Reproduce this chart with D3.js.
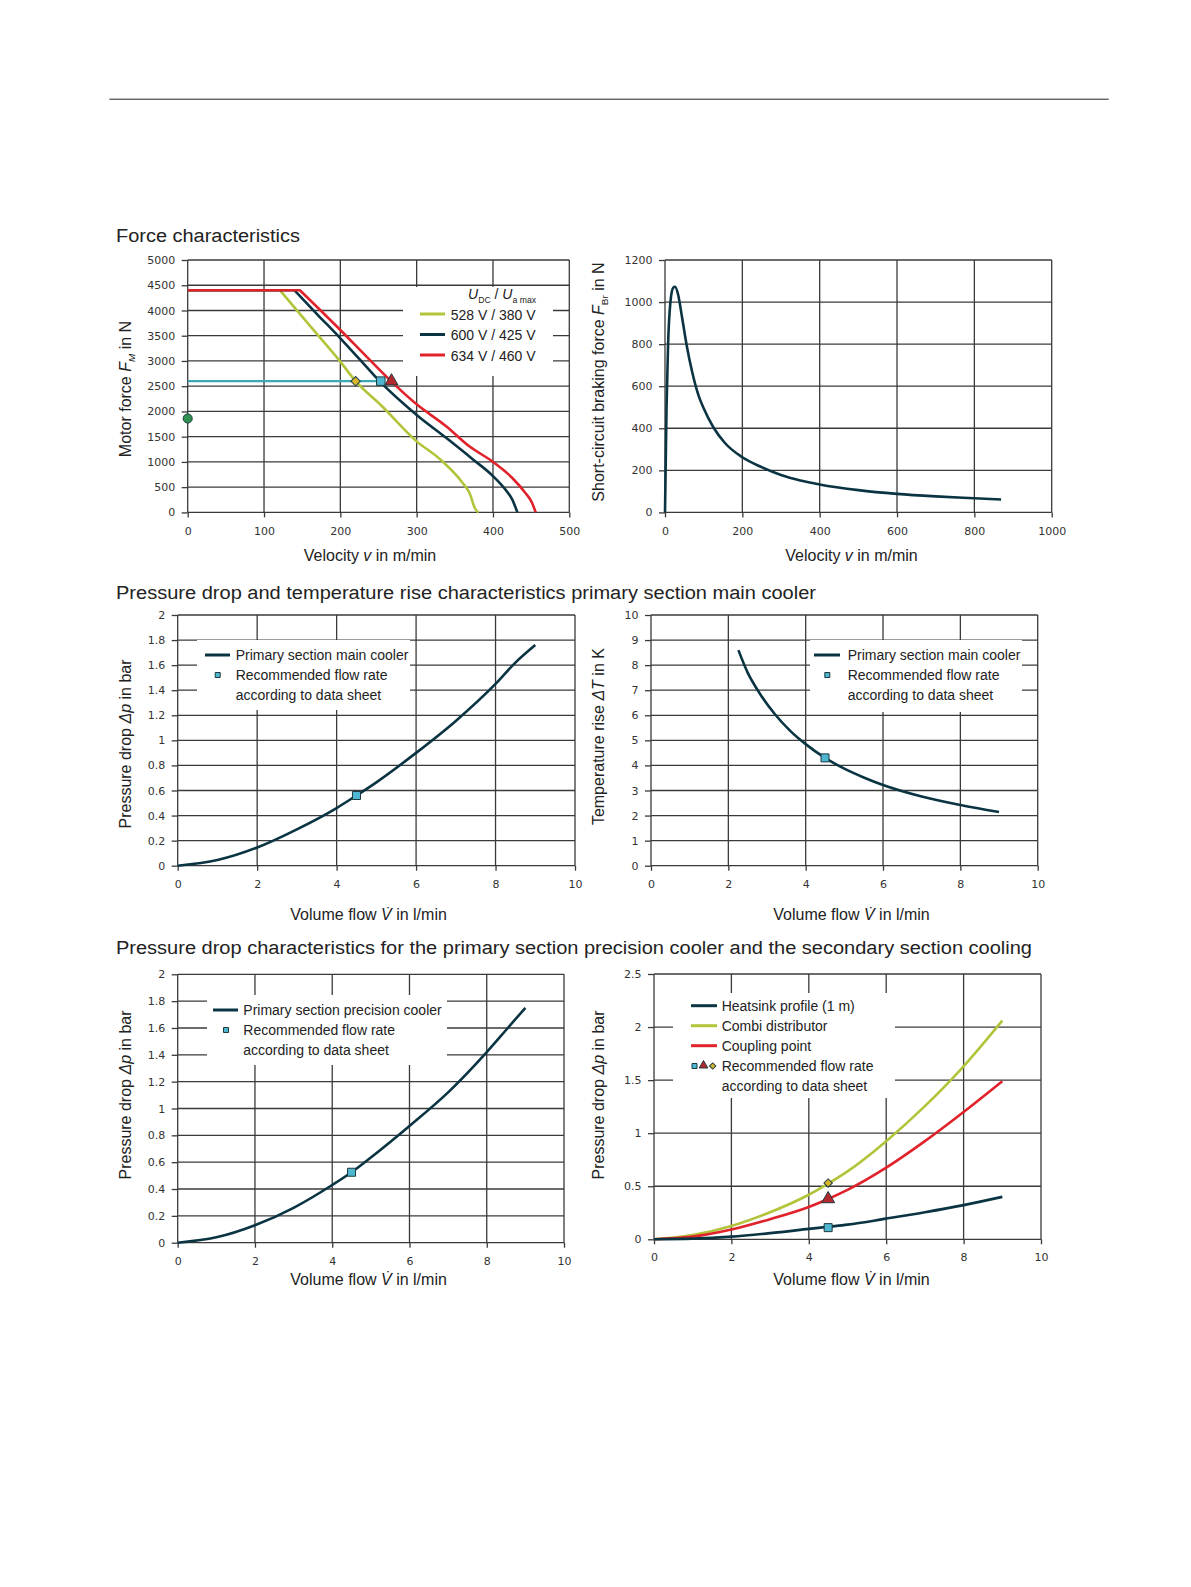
<!DOCTYPE html>
<html>
<head>
<meta charset="utf-8">
<script src="https://cdn.jsdelivr.net/npm/d3@7"></script>
<style>
body { margin: 0; background: #fff; }
svg { display: block; }
</style>
</head>
<body>
<svg id="page" width="1191" height="1587"></svg>
<script>
// ---- tick values ----
const forceTicksX = [0, 100, 200, 300, 400, 500];
const forceTicksY = [0, 500, 1000, 1500, 2000, 2500, 3000, 3500, 4000, 4500, 5000];
const brakeTicksX = [0, 200, 400, 600, 800, 1000];
const brakeTicksY = [0, 200, 400, 600, 800, 1000, 1200];
const flowTicks = [0, 2, 4, 6, 8, 10];
const dpTicks = [0, 0.2, 0.4, 0.6, 0.8, 1, 1.2, 1.4, 1.6, 1.8, 2];
const dTTicks = [0, 1, 2, 3, 4, 5, 6, 7, 8, 9, 10];
const dpTicks2 = [0, 0.5, 1, 1.5, 2, 2.5];

// ---- force characteristics [v m/min, F N] ----
const voltageLabels = ["528 V / 380 V", "600 V / 425 V", "634 V / 460 V"];
const force528 = [[0, 4400], [121, 4400], [160, 3700], [200, 2986], [220, 2600], [253, 2127], [300, 1407],
  [330, 1060], [360, 589], [369, 393], [377, 65], [381, 0]];
const force600 = [[0, 4400], [140, 4400], [170, 3920], [200, 3449], [226, 3020], [252, 2590], [300, 1931],
  [339, 1473], [373, 1060], [400, 720], [416, 458], [425, 262], [432, 0]];
const force634 = [[0, 4400], [147, 4400], [200, 3613], [234, 3090], [267, 2590], [300, 2140], [339, 1702],
  [369, 1309], [400, 1001], [425, 687], [442, 393], [451, 196], [456, 0]];
const contForce = [[0, 2600], [253, 2600]];
const pointDiamond = [220, 2600];
const pointSquare = [253, 2600];
const pointTriangle = [267, 2600];
const pointStandstill = [0, 1860];

// ---- short-circuit braking force [v, F] ----
const braking = [[0, 0], [4, 500], [8, 800], [14, 1000], [21, 1068], [26, 1073], [34, 1035], [43, 940],
  [56, 795], [70, 670], [86, 560], [100, 495], [125, 405], [155, 330], [200, 262], [250, 215], [300, 178],
  [350, 152], [400, 133], [500, 106], [600, 88], [700, 76], [800, 67], [869, 61]];

// ---- main cooler ----
const pressMain = [[0, 0], [1, 0.045], [2, 0.145], [3, 0.29], [4, 0.46], [4.5, 0.56], [5, 0.665],
  [6, 0.9], [7, 1.155], [8, 1.45], [8.5, 1.62], [9, 1.76]];
const pressMainRec = [4.5, 0.56];
const tempMain = [[2.26, 8.6], [2.5, 7.7], [2.8, 6.9], [3.2, 6.05], [3.6, 5.38], [4, 4.85], [4.5, 4.3],
  [5, 3.87], [5.5, 3.52], [6, 3.22], [7, 2.76], [8, 2.42], [9, 2.14]];
const tempMainRec = [4.5, 4.3];

// ---- precision cooler and secondary section ----
const pressPrec = [[0, 0], [1, 0.04], [2, 0.13], [3, 0.26], [4, 0.43], [4.5, 0.525], [5, 0.635],
  [6, 0.87], [7, 1.12], [8, 1.42], [8.5, 1.585], [9, 1.75]];
const pressPrecRec = [4.5, 0.525];
const heatsink = [[0, 0], [1, 0.006], [2, 0.025], [3, 0.058], [4, 0.098], [4.5, 0.118], [5, 0.138],
  [6, 0.195], [7, 0.255], [8, 0.322], [9, 0.4]];
const combi = [[0, 0], [1, 0.04], [2, 0.125], [3, 0.255], [4, 0.42], [4.5, 0.525], [5, 0.64],
  [6, 0.925], [7, 1.255], [8, 1.63], [9, 2.06]];
const coupling = [[0, 0], [1, 0.025], [2, 0.092], [3, 0.19], [4, 0.305], [4.5, 0.38], [5, 0.465],
  [6, 0.675], [7, 0.925], [8, 1.2], [9, 1.49]];
const heatsinkRec = [4.5, 0.11];
const couplingRec = [4.5, 0.38];
const combiRec = [4.5, 0.53];

// ---- colours ----
const gridColor = "#3a3a3a";
const navy = "#0b3443", lime = "#b3c43a", red = "#e0222b", teal = "#3aa9b3";
const cyanFill = "#4fb6d2", goldFill = "#d8b62c", triFill = "#b3282d", dotFill = "#2e9150";
const sans = "'Liberation Sans', Arial, sans-serif";

const svg = d3.select("#page");

// top rule
svg.append("line").attr("x1", 109.4).attr("x2", 1108.7).attr("y1", 99.2).attr("y2", 99.2)
  .attr("stroke", "#222").attr("stroke-width", 1);

function sectionTitle(txt, x, y, len) {
  svg.append("text").attr("x", x).attr("y", y).attr("font-family", sans).attr("font-size", 18)
    .attr("fill", "#222").attr("textLength", len).attr("lengthAdjust", "spacingAndGlyphs").text(txt);
}
sectionTitle("Force characteristics", 116, 241.5, 184);
sectionTitle("Pressure drop and temperature rise characteristics primary section main cooler", 116, 599, 700);
sectionTitle("Pressure drop characteristics for the primary section precision cooler and the secondary section cooling", 116, 954, 916);

// text with italic / subscript parts: [string, "i" | "sub" | "isub" | ""]
function rich(sel, parts) {
  let shifted = false;
  parts.forEach(([s, f]) => {
    const t = sel.append("tspan").text(s);
    if (f === "i" || f === "isub") t.style("font-style", "italic");
    if (f === "sub" || f === "isub") {
      t.attr("font-size", "0.62em").attr("dy", shifted ? null : 4);
      shifted = true;
    } else if (shifted) {
      t.attr("dy", -4);
      shifted = false;
    }
  });
}

function panel(o) {
  const x = d3.scaleLinear().domain([o.xt[0], o.xt[o.xt.length - 1]]).range([o.l, o.r]);
  const y = d3.scaleLinear().domain([o.yt[0], o.yt[o.yt.length - 1]]).range([o.b, o.t]);
  const g = svg.append("g");

  // grid
  g.selectAll(".vg").data(o.xt).join("line")
    .attr("x1", d => x(d)).attr("x2", d => x(d)).attr("y1", o.t).attr("y2", o.b)
    .attr("stroke", gridColor).attr("stroke-width", 1.3);
  g.selectAll(".hg").data(o.yt).join("line")
    .attr("x1", o.l).attr("x2", o.r).attr("y1", d => y(d)).attr("y2", d => y(d))
    .attr("stroke", gridColor).attr("stroke-width", 1.3);

  // axes
  const ax = g.append("g").attr("transform", `translate(0,${o.b})`)
    .call(d3.axisBottom(x).tickValues(o.xt).tickSize(5).tickPadding(o.xpad).tickFormat(d => String(d)));
  const ay = g.append("g").attr("transform", `translate(${o.l},0)`)
    .call(d3.axisLeft(y).tickValues(o.yt).tickSize(6).tickPadding(6.5).tickFormat(d => String(d)));
  [ax, ay].forEach(a => {
    a.select(".domain").remove();
    a.selectAll("line").attr("stroke", gridColor).attr("stroke-width", 1.3);
    a.selectAll("text").attr("font-family", "'DejaVu Sans', Verdana, sans-serif")
      .attr("font-size", 11).attr("fill", "#333");
  });

  // axis titles
  const xl = g.append("text").attr("x", o.xlx).attr("y", o.xly).attr("text-anchor", "middle")
    .attr("dominant-baseline", "central").attr("font-family", sans).attr("font-size", 16).attr("fill", "#222");
  rich(xl, o.xlabel);
  const yl = g.append("text").attr("transform", `translate(${o.ylx},${o.yly}) rotate(-90)`)
    .attr("text-anchor", "middle").attr("font-family", sans).attr("font-size", 16).attr("fill", "#222");
  rich(yl, o.ylabel);

  const line = d3.line().x(d => x(d[0])).y(d => y(d[1]));
  return { g, x, y, line };
}

function legendBox(g, x0, y0, x1, y1) {
  g.append("rect").attr("x", x0).attr("y", y0).attr("width", x1 - x0).attr("height", y1 - y0).attr("fill", "#fff");
}
function legendLine(g, x0, x1, y, color) {
  g.append("line").attr("x1", x0).attr("x2", x1).attr("y1", y).attr("y2", y)
    .attr("stroke", color).attr("stroke-width", 3);
}
function legendText(g, x, y, txt) {
  return g.append("text").attr("x", x).attr("y", y).attr("dominant-baseline", "central")
    .attr("font-family", sans).attr("font-size", 14).attr("fill", "#222").text(txt);
}
function marker(g, cx, cy, shape, fill, size) {
  const s = size || 8;
  let path, rot = 0;
  if (shape === "square") path = d3.symbol(d3.symbolSquare, s * s)();
  else if (shape === "diamond") { path = d3.symbol(d3.symbolSquare, s * s * 0.55)(); rot = 45; }
  else if (shape === "triangle") path = d3.symbol(d3.symbolTriangle, s * s * 0.9)();
  else path = d3.symbol(d3.symbolCircle, s * s * 0.8)();
  g.append("path").attr("d", path).attr("transform", `translate(${cx},${cy}) rotate(${rot})`)
    .attr("fill", fill).attr("stroke", "#1d3a40").attr("stroke-width", 1);
}
function curve(p, data, color) {
  p.g.append("path").datum(data).attr("d", p.line.curve(d3.curveMonotoneX)).attr("fill", "none")
    .attr("stroke", color).attr("stroke-width", 2.6).attr("stroke-linejoin", "round");
}
// flat constant-force segment, then a smooth falling branch from the corner point
function forceCurve(p, data, color) {
  const flat = p.line.curve(d3.curveLinear)(data.slice(0, 2));
  const fall = p.line.curve(d3.curveMonotoneX)(data.slice(1)).replace(/^M/, "L");
  p.g.append("path").attr("d", flat + fall).attr("fill", "none")
    .attr("stroke", color).attr("stroke-width", 2.6).attr("stroke-linejoin", "round");
}

const velLabel = [["Velocity ", ""], ["v", "i"], [" in m/min", ""]];
const flowLabel = [["Volume flow ", ""], ["V\u0307", "i"], [" in l/min", ""]];
const dpLabel = [["Pressure drop ", ""], ["\u0394p", "i"], [" in bar", ""]];

// ---------- Panel 1: motor force ----------
const p1 = panel({ l: 187.7, r: 569.3, t: 260, b: 512.4, xt: forceTicksX, yt: forceTicksY, xpad: 10,
  xlabel: velLabel, xlx: 370, xly: 555,
  ylabel: [["Motor force ", ""], ["F", "i"], ["M", "isub"], [" in N", ""]], ylx: 130.5, yly: 389 });
legendBox(p1.g, 403, 287, 553, 376);
const hdr = p1.g.append("text").attr("x", 468).attr("y", 299).attr("font-family", sans)
  .attr("font-size", 14).attr("fill", "#222");
rich(hdr, [["U", "i"], ["DC", "sub"], [" / ", ""], ["U", "i"], ["a max", "sub"]]);
[lime, navy, red].forEach((c, i) => {
  legendLine(p1.g, 420, 445, 314 + i * 20.5, c);
  legendText(p1.g, 450.7, 314.5 + i * 20.5, voltageLabels[i]);
});
p1.g.append("path").datum(contForce).attr("d", p1.line.curve(d3.curveLinear)).attr("fill", "none")
  .attr("stroke", teal).attr("stroke-width", 2.4);
forceCurve(p1, force528, lime);
forceCurve(p1, force600, navy);
forceCurve(p1, force634, red);
marker(p1.g, p1.x(pointDiamond[0]), p1.y(pointDiamond[1]), "diamond", goldFill, 9);
marker(p1.g, p1.x(pointSquare[0]), p1.y(pointSquare[1]), "square", cyanFill, 8.5);
marker(p1.g, p1.x(pointTriangle[0]), p1.y(pointTriangle[1]), "triangle", triFill, 9);
marker(p1.g, p1.x(pointStandstill[0]), p1.y(pointStandstill[1]), "circle", dotFill, 9);

// ---------- Panel 2: braking force ----------
const p2 = panel({ l: 665, r: 1051.7, t: 260, b: 512.4, xt: brakeTicksX, yt: brakeTicksY, xpad: 10,
  xlabel: velLabel, xlx: 851.5, xly: 555,
  ylabel: [["Short-circuit braking force  ", ""], ["F", "i"], ["Br", "sub"], [" in N", ""]], ylx: 604.3, yly: 382 });
curve(p2, braking, navy);

// ---------- Panel 3: pressure drop main cooler ----------
const p3 = panel({ l: 177.7, r: 575, t: 615, b: 865.7, xt: flowTicks, yt: dpTicks, xpad: 9.4,
  xlabel: flowLabel, xlx: 368.6, xly: 914.3, ylabel: dpLabel, ylx: 130.5, yly: 744 });
legendBox(p3.g, 197, 640, 410, 710);
legendLine(p3.g, 205, 230, 655, navy);
legendText(p3.g, 235.7, 655, "Primary section main cooler");
marker(p3.g, 217.7, 675, "square", cyanFill, 5);
legendText(p3.g, 235.7, 675, "Recommended flow rate");
legendText(p3.g, 235.7, 695, "according to data sheet");
curve(p3, pressMain, navy);
marker(p3.g, p3.x(pressMainRec[0]), p3.y(pressMainRec[1]), "square", cyanFill, 8);

// ---------- Panel 4: temperature rise ----------
const p4 = panel({ l: 651, r: 1037.7, t: 615, b: 865.7, xt: flowTicks, yt: dTTicks, xpad: 9.4,
  xlabel: flowLabel, xlx: 851.5, xly: 914.3,
  ylabel: [["Temperature rise  ", ""], ["\u0394T", "i"], [" in K", ""]], ylx: 604.3, yly: 736.6 });
legendBox(p4.g, 810, 640, 1022, 712);
legendLine(p4.g, 814, 840, 655, navy);
legendText(p4.g, 847.7, 655, "Primary section main cooler");
marker(p4.g, 827.3, 675, "square", cyanFill, 5);
legendText(p4.g, 847.7, 675, "Recommended flow rate");
legendText(p4.g, 847.7, 695, "according to data sheet");
curve(p4, tempMain, navy);
marker(p4.g, p4.x(tempMainRec[0]), p4.y(tempMainRec[1]), "square", cyanFill, 8);

// ---------- Panel 5: precision cooler ----------
const p5 = panel({ l: 177.7, r: 564, t: 974.3, b: 1242.7, xt: flowTicks, yt: dpTicks, xpad: 9.4,
  xlabel: flowLabel, xlx: 368.6, xly: 1278.8, ylabel: dpLabel, ylx: 130.5, yly: 1095 });
legendBox(p5.g, 207, 995, 447, 1065);
legendLine(p5.g, 213, 238, 1010, navy);
legendText(p5.g, 243.3, 1010, "Primary section precision cooler");
marker(p5.g, 226, 1030, "square", cyanFill, 5);
legendText(p5.g, 243.3, 1030, "Recommended flow rate");
legendText(p5.g, 243.3, 1050, "according to data sheet");
curve(p5, pressPrec, navy);
marker(p5.g, p5.x(pressPrecRec[0]), p5.y(pressPrecRec[1]), "square", cyanFill, 8);

// ---------- Panel 6: secondary section ----------
const p6 = panel({ l: 654, r: 1041, t: 974, b: 1239.3, xt: flowTicks, yt: dpTicks2, xpad: 9.3,
  xlabel: flowLabel, xlx: 851.5, xly: 1278.8, ylabel: dpLabel, ylx: 604.3, yly: 1095 });
legendBox(p6.g, 673, 993, 895, 1098);
legendLine(p6.g, 691, 717, 1005.7, navy);
legendText(p6.g, 721.7, 1005.7, "Heatsink profile (1 m)");
legendLine(p6.g, 691, 717, 1025.7, lime);
legendText(p6.g, 721.7, 1025.7, "Combi distributor");
legendLine(p6.g, 691, 717, 1045.7, red);
legendText(p6.g, 721.7, 1045.7, "Coupling point");
marker(p6.g, 694.5, 1066, "square", cyanFill, 5);
marker(p6.g, 703.5, 1065.5, "triangle", triFill, 6);
marker(p6.g, 712.7, 1066, "diamond", goldFill, 6);
legendText(p6.g, 721.7, 1065.7, "Recommended flow rate");
legendText(p6.g, 721.7, 1085.7, "according to data sheet");
curve(p6, combi, lime);
curve(p6, coupling, red);
curve(p6, heatsink, navy);
marker(p6.g, p6.x(combiRec[0]), p6.y(combiRec[1]), "diamond", goldFill, 8);
marker(p6.g, p6.x(couplingRec[0]), p6.y(couplingRec[1]), "triangle", triFill, 9);
marker(p6.g, p6.x(heatsinkRec[0]), p6.y(heatsinkRec[1]), "square", cyanFill, 8);
</script>
</body>
</html>
